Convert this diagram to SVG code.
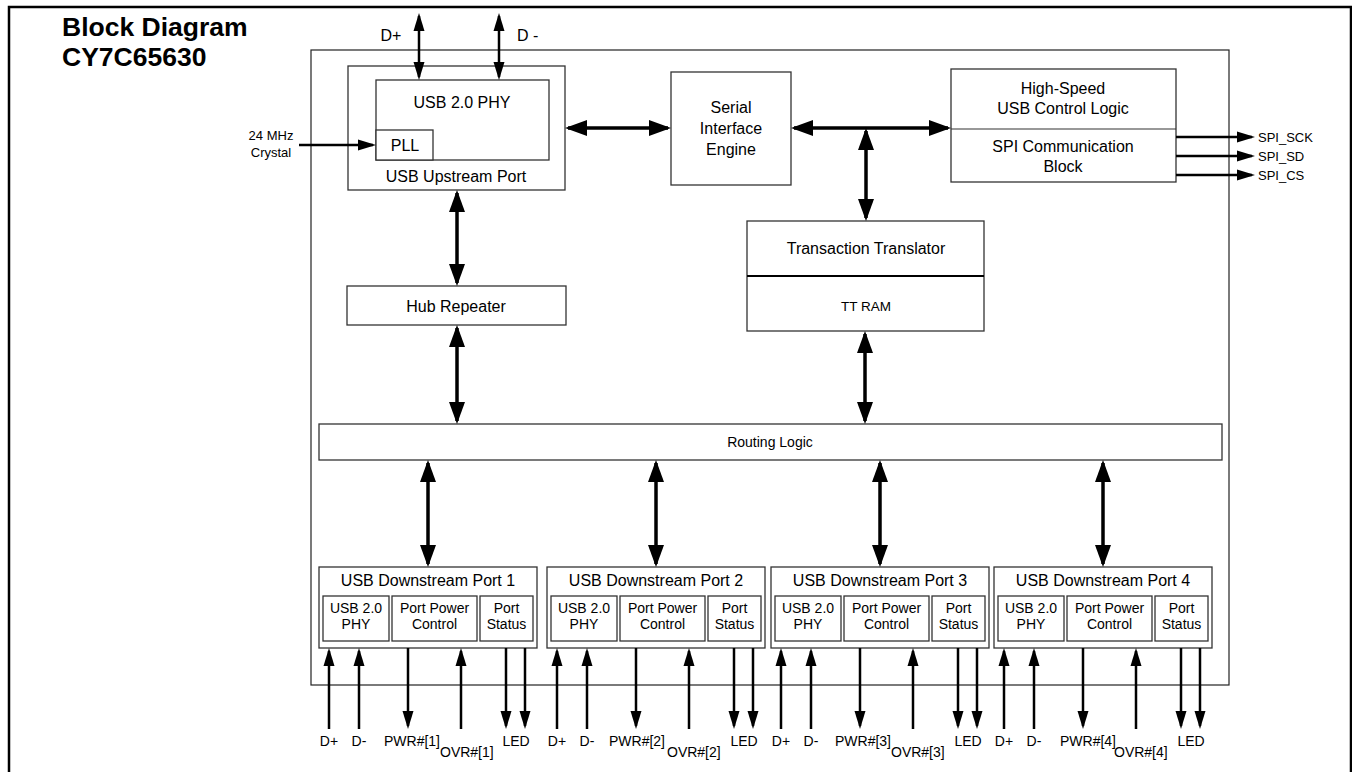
<svg xmlns="http://www.w3.org/2000/svg" width="1352" height="772" viewBox="0 0 1352 772">
<style>
text{font-family:"Liberation Sans",Arial,sans-serif;fill:#000}
.t16{font-size:16px;text-anchor:middle}
.t14{font-size:14px;text-anchor:middle}
.t13{font-size:13px}
.box{fill:#fff;stroke:#333;stroke-width:1.3}
.big{stroke:#000;stroke-width:3.5;fill:none;marker-start:url(#hb);marker-end:url(#hb)}
.pin{stroke:#000;stroke-width:2.5;fill:none;marker-end:url(#hs)}
.pin2{stroke:#000;stroke-width:2.5;fill:none;marker-start:url(#hs);marker-end:url(#hs)}
</style>
<defs>
<marker id="hb" markerUnits="userSpaceOnUse" markerWidth="22" markerHeight="16" refX="19" refY="8" orient="auto-start-reverse"><path d="M0,0 L22,8 L0,16 Z" fill="#000"/></marker>
<marker id="hs" markerUnits="userSpaceOnUse" markerWidth="18" markerHeight="12" refX="15" refY="6" orient="auto-start-reverse"><path d="M0,0.5 L18,6 L0,11.5 Z" fill="#000"/></marker>
</defs>
<rect width="1352" height="772" fill="#fff"/>
<path d="M9,772 V7 H1351 V772" fill="none" stroke="#000" stroke-width="2.5"/>
<g id="title">
<text x="62" y="36" style="font-size:26.5px;font-weight:bold">Block Diagram</text>
<text x="62" y="66" style="font-size:26.5px;font-weight:bold">CY7C65630</text>
</g>
<g id="chip"><rect x="311" y="50" width="918" height="635" fill="none" stroke="#222" stroke-width="1.2"/></g>
<g id="upstream">
<rect class="box" x="348" y="66" width="217" height="124"/>
<rect class="box" x="376" y="80" width="173" height="80"/>
<rect class="box" x="376" y="130" width="57" height="30"/>
<text class="t16" x="462" y="108">USB 2.0 PHY</text>
<text class="t16" x="405" y="151">PLL</text>
<text class="t16" x="456" y="182">USB Upstream Port</text>
</g>
<g id="sie">
<rect class="box" x="671" y="72" width="120" height="113"/>
<text class="t16" x="731" y="113">Serial</text>
<text class="t16" x="731" y="134">Interface</text>
<text class="t16" x="731" y="155">Engine</text>
</g>
<g id="hscontrol">
<rect class="box" x="951" y="69" width="225" height="113"/>
<line x1="951" y1="129" x2="1176" y2="129" stroke="#333" stroke-width="1.2"/>
<text class="t16" x="1063" y="94">High-Speed</text>
<text class="t16" x="1063" y="114">USB Control Logic</text>
<text class="t16" x="1063" y="152">SPI Communication</text>
<text class="t16" x="1063" y="172">Block</text>
</g>
<g id="tt">
<rect class="box" x="747" y="221" width="237" height="110"/>
<line x1="747" y1="276" x2="984" y2="276" stroke="#000" stroke-width="2"/>
<text class="t16" x="866" y="254">Transaction Translator</text>
<text class="t14" x="866" y="311" style="font-size:13.5px">TT RAM</text>
</g>
<g id="hub">
<rect class="box" x="347" y="286" width="219" height="39"/>
<text class="t16" x="456" y="312">Hub Repeater</text>
</g>
<g id="routing">
<rect class="box" x="319" y="424" width="903" height="36"/>
<text class="t14" x="770" y="447">Routing Logic</text>
</g>
<g id="port1">
<rect class="box" x="319" y="567" width="218" height="81"/>
<text class="t16" x="428" y="586">USB Downstream Port 1</text>
<rect class="box" x="323" y="596" width="66" height="45"/>
<rect class="box" x="392" y="596" width="85" height="45"/>
<rect class="box" x="480" y="596" width="53" height="45"/>
<text class="t14" x="356" y="613">USB 2.0</text><text class="t14" x="356" y="629">PHY</text>
<text class="t14" x="434.5" y="613">Port Power</text><text class="t14" x="434.5" y="629">Control</text>
<text class="t14" x="506.5" y="613">Port</text><text class="t14" x="506.5" y="629">Status</text>
</g>
<g id="port2">
<rect class="box" x="547" y="567" width="218" height="81"/>
<text class="t16" x="656" y="586">USB Downstream Port 2</text>
<rect class="box" x="551" y="596" width="66" height="45"/>
<rect class="box" x="620" y="596" width="85" height="45"/>
<rect class="box" x="708" y="596" width="53" height="45"/>
<text class="t14" x="584" y="613">USB 2.0</text><text class="t14" x="584" y="629">PHY</text>
<text class="t14" x="662.5" y="613">Port Power</text><text class="t14" x="662.5" y="629">Control</text>
<text class="t14" x="734.5" y="613">Port</text><text class="t14" x="734.5" y="629">Status</text>
</g>
<g id="port3">
<rect class="box" x="771" y="567" width="218" height="81"/>
<text class="t16" x="880" y="586">USB Downstream Port 3</text>
<rect class="box" x="775" y="596" width="66" height="45"/>
<rect class="box" x="844" y="596" width="85" height="45"/>
<rect class="box" x="932" y="596" width="53" height="45"/>
<text class="t14" x="808" y="613">USB 2.0</text><text class="t14" x="808" y="629">PHY</text>
<text class="t14" x="886.5" y="613">Port Power</text><text class="t14" x="886.5" y="629">Control</text>
<text class="t14" x="958.5" y="613">Port</text><text class="t14" x="958.5" y="629">Status</text>
</g>
<g id="port4">
<rect class="box" x="994" y="567" width="218" height="81"/>
<text class="t16" x="1103" y="586">USB Downstream Port 4</text>
<rect class="box" x="998" y="596" width="66" height="45"/>
<rect class="box" x="1067" y="596" width="85" height="45"/>
<rect class="box" x="1155" y="596" width="53" height="45"/>
<text class="t14" x="1031" y="613">USB 2.0</text><text class="t14" x="1031" y="629">PHY</text>
<text class="t14" x="1109.5" y="613">Port Power</text><text class="t14" x="1109.5" y="629">Control</text>
<text class="t14" x="1181.5" y="613">Port</text><text class="t14" x="1181.5" y="629">Status</text>
</g>
<g id="connectors">
<line class="pin2" x1="419" y1="16" x2="419" y2="77"/>
<line class="pin2" x1="499" y1="16" x2="499" y2="77"/>
<line class="pin" x1="299" y1="145" x2="373" y2="145"/>
<line class="big" x1="568" y1="128" x2="668" y2="128"/>
<line class="big" x1="794" y1="128" x2="948" y2="128"/>
<line class="big" x1="866" y1="131" x2="866" y2="218"/>
<line class="big" x1="457" y1="193" x2="457" y2="283"/>
<line class="big" x1="457" y1="328" x2="457" y2="421"/>
<line class="big" x1="865" y1="334" x2="865" y2="421"/>
<line class="big" x1="428" y1="463" x2="428" y2="564"/>
<line class="big" x1="656" y1="463" x2="656" y2="564"/>
<line class="big" x1="880" y1="463" x2="880" y2="564"/>
<line class="big" x1="1103" y1="463" x2="1103" y2="564"/>
<line class="pin" x1="1176" y1="137" x2="1252" y2="137"/>
<line class="pin" x1="1176" y1="156" x2="1252" y2="156"/>
<line class="pin" x1="1176" y1="175" x2="1252" y2="175"/>
<line class="pin" x1="329" y1="729" x2="329" y2="651"/><line class="pin" x1="359" y1="729" x2="359" y2="651"/><line class="pin" x1="408" y1="648" x2="408" y2="726"/><line class="pin" x1="461" y1="729" x2="461" y2="651"/><line class="pin" x1="506" y1="648" x2="506" y2="726"/><line class="pin" x1="525" y1="648" x2="525" y2="726"/>
<line class="pin" x1="557" y1="729" x2="557" y2="651"/><line class="pin" x1="587" y1="729" x2="587" y2="651"/><line class="pin" x1="636" y1="648" x2="636" y2="726"/><line class="pin" x1="689" y1="729" x2="689" y2="651"/><line class="pin" x1="734" y1="648" x2="734" y2="726"/><line class="pin" x1="753" y1="648" x2="753" y2="726"/>
<line class="pin" x1="781" y1="729" x2="781" y2="651"/><line class="pin" x1="811" y1="729" x2="811" y2="651"/><line class="pin" x1="860" y1="648" x2="860" y2="726"/><line class="pin" x1="913" y1="729" x2="913" y2="651"/><line class="pin" x1="958" y1="648" x2="958" y2="726"/><line class="pin" x1="977" y1="648" x2="977" y2="726"/>
<line class="pin" x1="1004" y1="729" x2="1004" y2="651"/><line class="pin" x1="1034" y1="729" x2="1034" y2="651"/><line class="pin" x1="1083" y1="648" x2="1083" y2="726"/><line class="pin" x1="1136" y1="729" x2="1136" y2="651"/><line class="pin" x1="1181" y1="648" x2="1181" y2="726"/><line class="pin" x1="1200" y1="648" x2="1200" y2="726"/>
</g>
<g id="labels">
<text class="t16" x="391" y="41">D+</text>
<text x="517" y="41" style="font-size:16px">D -</text>
<text class="t13" x="271" y="140" text-anchor="middle">24 MHz</text>
<text class="t13" x="271" y="157" text-anchor="middle">Crystal</text>
<text class="t13" x="1258" y="142">SPI_SCK</text>
<text class="t13" x="1258" y="161">SPI_SD</text>
<text class="t13" x="1258" y="180">SPI_CS</text>
<g style="font-size:14px">
<text x="329" y="746" text-anchor="middle">D+</text><text x="359" y="746" text-anchor="middle">D-</text><text x="384" y="746">PWR#[1]</text><text x="440" y="757">OVR#[1]</text><text x="516" y="746" text-anchor="middle">LED</text>
<text x="557" y="746" text-anchor="middle">D+</text><text x="587" y="746" text-anchor="middle">D-</text><text x="609" y="746">PWR#[2]</text><text x="667" y="757">OVR#[2]</text><text x="744" y="746" text-anchor="middle">LED</text>
<text x="781" y="746" text-anchor="middle">D+</text><text x="811" y="746" text-anchor="middle">D-</text><text x="835" y="746">PWR#[3]</text><text x="891" y="757">OVR#[3]</text><text x="968" y="746" text-anchor="middle">LED</text>
<text x="1004" y="746" text-anchor="middle">D+</text><text x="1034" y="746" text-anchor="middle">D-</text><text x="1060" y="746">PWR#[4]</text><text x="1114" y="757">OVR#[4]</text><text x="1191" y="746" text-anchor="middle">LED</text>
</g>
</g>
</svg>
